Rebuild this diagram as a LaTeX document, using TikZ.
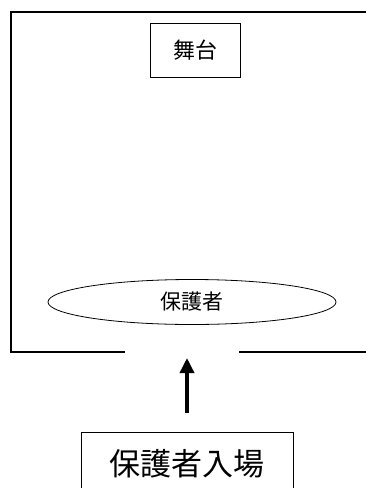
\documentclass[tikz,border=0pt]{standalone}
\usepackage{fontspec}
\setmainfont{Noto Sans CJK JP}
\usepackage{tikz}
\usetikzlibrary{shapes,arrows.meta,positioning}

\begin{document}
\begin{tikzpicture}[x=1pt, y=-1pt,
  wall/.style={line width=2.5pt},
  label box/.style={draw, line width=0.8pt, inner sep=0pt}]
\useasboundingbox (0, 0) rectangle (366, 488);
\clip (0, 0) rectangle (366, 488);

\coordinate (w_a) at (366, 12);
\coordinate (w_b) at (11, 12);
\coordinate (w_c) at (11, 352);
\coordinate (w_d) at (125, 352);
\coordinate (w_e) at (239, 352);
\coordinate (w_f) at (366, 352);

\coordinate (gate) at (187, 358);

\draw [wall] (w_a) -- (w_b) -- (w_c) -- (w_d);
\draw [wall] (w_e) -- (w_f);

\node [label box, minimum width=90pt, minimum height=54pt, font=\fontsize{22pt}{24pt}\selectfont] (stage) at (195, 50) {舞台};
\node [label box, ellipse, minimum width=288pt, minimum height=45pt, font=\fontsize{21pt}{23pt}\selectfont] (guard) at (192, 302) {保護者};
\node [label box, minimum width=212pt, minimum height=64pt, font=\fontsize{31pt}{33pt}\selectfont] (entry) at (187, 464) {保護者入場};

\draw [line width=3.5pt, -{Triangle[length=15pt, width=14pt]}, shorten <=19pt] (entry.north) -- (gate);
\end{tikzpicture}
\end{document}
